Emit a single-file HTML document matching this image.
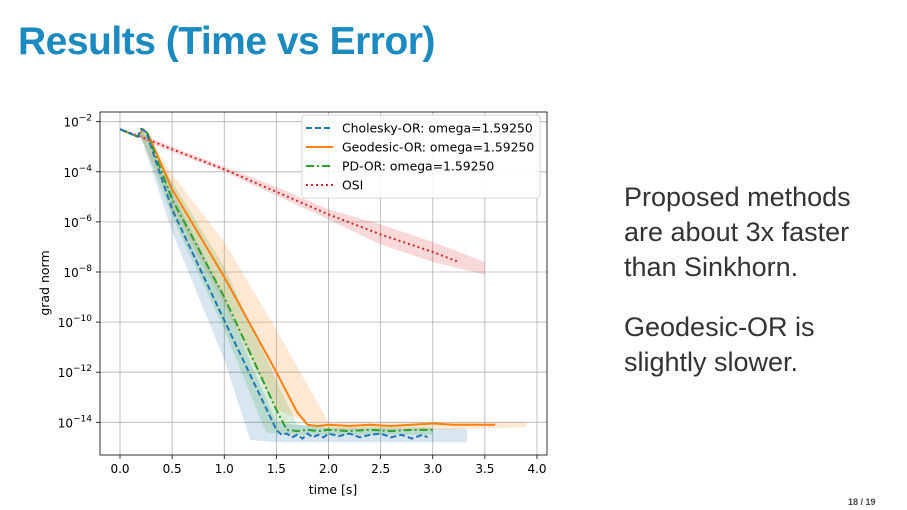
<!DOCTYPE html>
<html><head><meta charset="utf-8"><style>
body{margin:0;width:907px;height:510px;background:#fff;font-family:"Liberation Sans","DejaVu Sans",sans-serif;overflow:hidden;position:relative}
.title{position:absolute;left:18px;top:20px;font-size:39px;font-weight:bold;color:#1b8ac0;letter-spacing:-0.5px}
.txt{position:absolute;left:624px;font-size:27px;color:#333;line-height:35px}
.pg{position:absolute;left:848px;top:497px;font-size:9px;font-weight:bold;color:#444}
svg text{font-family:"DejaVu Sans",sans-serif}
</style></head><body>
<div class="title">Results (Time vs Error)</div>
<div class="txt" style="top:180px">Proposed methods<br>are about 3x faster<br>than Sinkhorn.</div>
<div class="txt" style="top:310px">Geodesic-OR is<br>slightly slower.</div>
<div class="pg">18 / 19</div>
<svg id="chart" width="907" height="510" style="position:absolute;left:0;top:0"></svg>
<script>
const xTicks=[0,0.5,1,1.5,2,2.5,3,3.5,4];
const xTickLabels=["0.0","0.5","1.0","1.5","2.0","2.5","3.0","3.5","4.0"];
const yTicks=[-2,-4,-6,-8,-10,-12,-14];
const seriesNames=["Cholesky-OR: omega=1.59250","Geodesic-OR: omega=1.59250","PD-OR: omega=1.59250","OSI"];
const cholT=[0,0.17,0.2,0.25,0.5,1.0,1.5,1.55,1.6,1.65,1.7,1.75,1.8,1.85,1.9,1.95,2.0,2.1,2.2,2.3,2.4,2.5,2.6,2.7,2.8,2.9,2.95];
const cholV=[-2.3,-2.6,-2.3,-2.4,-5.5,-9.93,-14.3,-14.5,-14.45,-14.6,-14.5,-14.65,-14.45,-14.6,-14.5,-14.6,-14.45,-14.55,-14.45,-14.6,-14.5,-14.45,-14.6,-14.5,-14.65,-14.5,-14.6];
const geoT=[0,0.17,0.22,0.27,0.5,1.0,1.5,1.7,1.8,1.9,2.0,2.2,2.4,2.6,2.8,3.0,3.2,3.4,3.6];
const geoV=[-2.3,-2.6,-2.3,-2.5,-4.7,-8.2,-12.0,-13.6,-14.1,-14.15,-14.1,-14.15,-14.1,-14.15,-14.1,-14.05,-14.1,-14.1,-14.1];
const pdT=[0,0.17,0.21,0.26,0.5,1.0,1.5,1.6,1.7,1.8,1.9,2.0,2.2,2.4,2.6,2.8,3.0];
const pdV=[-2.3,-2.6,-2.3,-2.45,-5.1,-9.0,-13.5,-14.3,-14.35,-14.3,-14.35,-14.3,-14.35,-14.3,-14.35,-14.3,-14.3];
const osiT=[0,0.2,0.5,1.0,1.5,2.0,2.5,3.0,3.25];
const osiV=[-2.3,-2.6,-3.1,-3.9,-4.8,-5.7,-6.5,-7.2,-7.6];
const cholBandT=[0.2,0.5,1.0,1.25,1.5,2.0,3.0,3.33];
const cholBandLo=[-2.6,-6.4,-11.5,-14.7,-14.8,-14.8,-14.8,-14.8];
const cholBandHi=[-2.2,-4.8,-9.0,-11.6,-14.0,-14.25,-14.25,-14.25];
const geoBandT=[0.2,0.5,1.0,1.5,2.0,3.0,3.9];
const geoBandLo=[-2.6,-5.4,-9.3,-13.5,-14.3,-14.3,-14.2];
const geoBandHi=[-2.2,-4.1,-6.8,-10.3,-14.0,-14.0,-14.0];
const pdBandT=[0.2,0.5,1.0,1.4,1.7,2.0,3.0];
const pdBandLo=[-2.6,-5.8,-10.3,-14.4,-14.5,-14.5,-14.5];
const pdBandHi=[-2.2,-4.4,-7.8,-11.4,-14.1,-14.2,-14.2];
const osiBandT=[0.2,0.5,1.0,1.5,2.0,2.5,3.0,3.5];
const osiBandLo=[-2.7,-3.2,-4.0,-4.95,-5.9,-6.9,-7.6,-8.1];
const osiBandHi=[-2.5,-3.0,-3.8,-4.6,-5.5,-6.1,-6.8,-7.6];

const NS="http://www.w3.org/2000/svg";
const svg=document.getElementById('chart');
const L=100,R=547,T=112,B=455;
const X=t=>120+t*(537-120)/4;
const Y=v=>121.7+(-2-v)*25.05;
function el(tag,attrs,parent){const e=document.createElementNS(NS,tag);for(const k in attrs)e.setAttribute(k,attrs[k]);(parent||svg).appendChild(e);return e;}
xTicks.forEach((t,i)=>{
  const g=el('line',{x1:X(t),x2:X(t),y1:T,y2:B,stroke:'#b0b0b0','stroke-width':0.8});
  
  
  el('line',{x1:X(t),x2:X(t),y1:B,y2:B+4,stroke:'#000','stroke-width':0.8});
  const tx=el('text',{x:X(t),y:B+18,'font-size':12,'text-anchor':'middle'});tx.textContent=xTickLabels[i];
  
  
});
yTicks.forEach(v=>{
  const g=el('line',{x1:L,x2:R,y1:Y(v),y2:Y(v),stroke:'#b0b0b0','stroke-width':0.8});
  
  
  el('line',{x1:L-4,x2:L,y1:Y(v),y2:Y(v),stroke:'#000','stroke-width':0.8});
  const tx=el('text',{x:L-8,y:Y(v)+5,'font-size':12,'text-anchor':'end'});
  tx.innerHTML='10<tspan dy="-6" font-size="9">\u2212'+(-v)+'</tspan>';
  
  
});
function band(ts,lo,hi,color,name){
  const pts=ts.map((t,i)=>X(t)+','+Y(hi[i])).concat(ts.map((t,i)=>X(t)+','+Y(lo[i])).reverse());
  const p=el('polygon',{points:pts.join(' '),fill:color,'fill-opacity':0.18});
  
  
}
band(osiBandT,osiBandLo,osiBandHi,'#d62728','osi-band');
band(geoBandT,geoBandLo,geoBandHi,'#ff7f0e','geodesic-band');
band(cholBandT,cholBandLo,cholBandHi,'#1f77b4','cholesky-band');
band(pdBandT,pdBandLo,pdBandHi,'#2ca02c','pd-band');
function line(ts,vs,color,dash,name){
  const p=el('polyline',{points:ts.map((t,i)=>X(t)+','+Y(vs[i])).join(' '),fill:'none',stroke:color,'stroke-width':2,'stroke-dasharray':dash});
  
  
}
line(osiT,osiV,'#d62728','2 3','osi-line');
line(geoT,geoV,'#ff7f0e','none','geodesic-line');
line(pdT,pdV,'#2ca02c','8 3 2 3','pd-line');
line(cholT,cholV,'#1f77b4','6 3','cholesky-line');
el('rect',{x:L,y:T,width:R-L,height:B-T,fill:'none',stroke:'#000','stroke-width':0.8});
const lg=el('g',{});


el('rect',{x:302,y:115,width:238,height:83,rx:3,fill:'#fff','fill-opacity':0.85,stroke:'#ccc','stroke-width':0.8},lg);
const colors=['#1f77b4','#ff7f0e','#2ca02c','#d62728'];
const dashes=['6 3','none','8 3 2 3','2 3'];
seriesNames.forEach((n,i)=>{
  const y=128+i*19;
  el('line',{x1:306,x2:333,y1:y,y2:y,stroke:colors[i],'stroke-width':2,'stroke-dasharray':dashes[i]},lg);
  const tx=el('text',{x:342,y:y+4.5,'font-size':12.4},lg);tx.textContent=n;
  
  
});
const xl=el('text',{x:333,y:494,'font-size':12.5,'text-anchor':'middle'});xl.textContent='time [s]';


const yl=el('text',{x:0,y:0,'font-size':12.5,'text-anchor':'middle',transform:'translate(49,283) rotate(-90)'});yl.textContent='grad norm';


</script>
</body></html>
